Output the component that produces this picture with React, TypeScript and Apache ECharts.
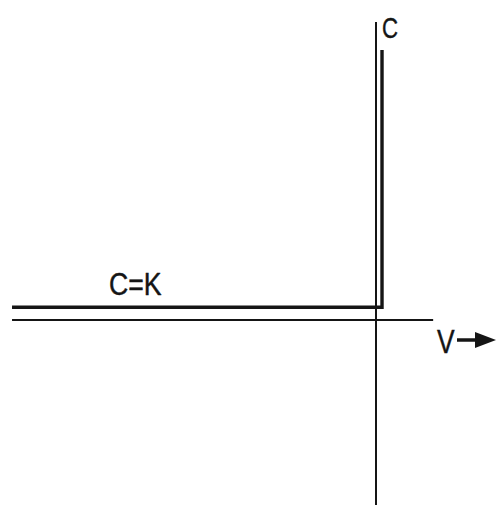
import React, { useEffect, useRef } from "react";
import * as echarts from "echarts";

// Schematic: capacitance C versus voltage V (C = K below 0, vertical rise at ~0)
const horizontalAxis: [number, number][] = [[-9.68, 0], [1.52, 0]];
const verticalAxis: [number, number][] = [[0, -5.78], [0, 9.31]];
const curveCK: [number, number][] = [[-9.68, 0.4], [0.16, 0.4], [0.16, 8.44]];
const labels = { yName: "C", xName: "V", curve: "C=K" };

const INK = "#151515";
const FONT = "'Liberation Sans', Arial, sans-serif";

export default function App() {
  const ref = useRef<HTMLDivElement>(null);
  useEffect(() => {
    if (!ref.current) return;
    const chart = echarts.init(ref.current, undefined, { renderer: "svg" });
    chart.setOption({
      animation: false,
      backgroundColor: "#ffffff",
      grid: { left: 0, right: 0, top: 0, bottom: 0 },
      xAxis: { type: "value", min: -10, max: 3.218, show: false },
      yAxis: { type: "value", min: -5.906, max: 10, show: false },
      series: [
        {
          type: "line",
          data: horizontalAxis,
          showSymbol: false,
          clip: false,
          lineStyle: { color: INK, width: 2 },
        },
        {
          type: "line",
          data: verticalAxis,
          showSymbol: false,
          clip: false,
          lineStyle: { color: INK, width: 2 },
        },
        {
          type: "line",
          data: curveCK,
          showSymbol: false,
          clip: false,
          lineStyle: { color: INK, width: 3.4, join: "miter" },
        },
      ],
      graphic: [
        {
          type: "text",
          x: 109,
          y: 284,
          scaleX: 0.86,
          style: {
            text: labels.curve,
            font: `31px ${FONT}`,
            fill: INK,
            stroke: INK,
            lineWidth: 0.4,
            textAlign: "left",
            textVerticalAlign: "middle",
          },
        },
        {
          type: "text",
          x: 382,
          y: 28,
          scaleX: 0.74,
          style: {
            text: labels.yName,
            font: `30px ${FONT}`,
            fill: INK,
            stroke: INK,
            lineWidth: 0.4,
            textAlign: "left",
            textVerticalAlign: "middle",
          },
        },
        {
          type: "text",
          x: 437,
          y: 341,
          scaleX: 0.8,
          style: {
            text: labels.xName,
            font: `33px ${FONT}`,
            fill: INK,
            stroke: INK,
            lineWidth: 0.4,
            textAlign: "left",
            textVerticalAlign: "middle",
          },
        },
        {
          type: "line",
          shape: { x1: 457, y1: 340, x2: 478, y2: 340 },
          style: { stroke: INK, lineWidth: 3.5 },
        },
        {
          type: "polygon",
          shape: { points: [[475, 332], [496, 340], [475, 348]] },
          style: { fill: INK },
        },
      ],
    });
    return () => chart.dispose();
  }, []);
  return (
    <div
      ref={ref}
      style={{ position: "fixed", left: 0, top: 0, width: 497, height: 509, background: "#fff" }}
    />
  );
}
